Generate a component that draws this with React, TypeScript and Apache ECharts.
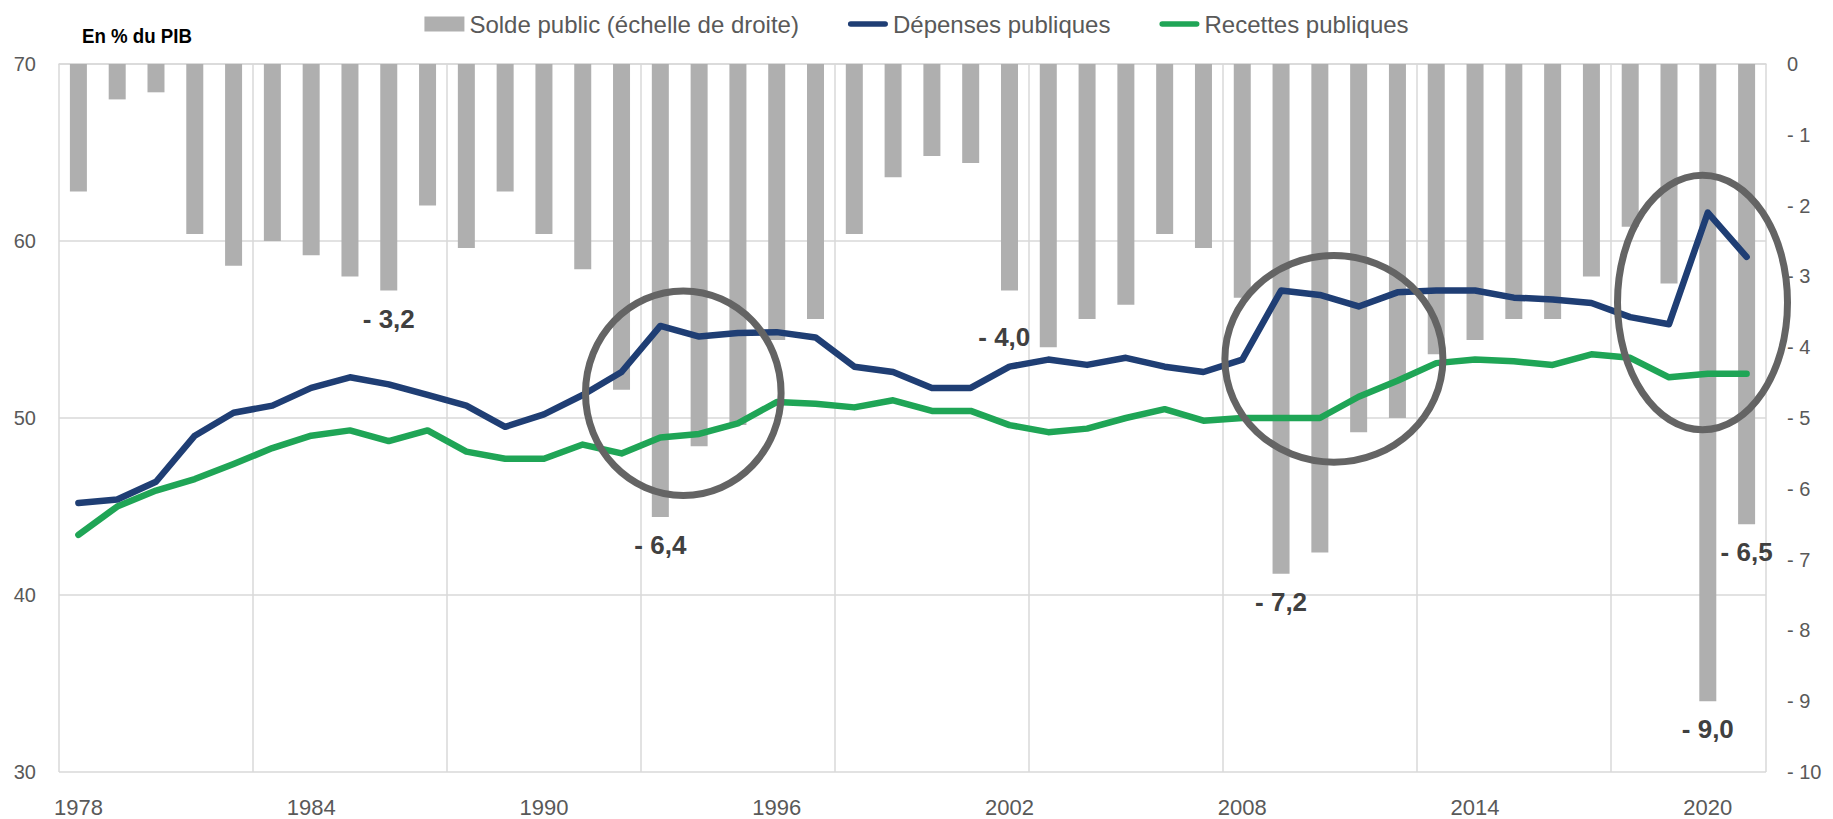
import React, { useEffect, useRef } from "react";
import * as echarts from "echarts";

const years: string[] = [
  "1978","1979","1980","1981","1982","1983","1984","1985","1986","1987",
  "1988","1989","1990","1991","1992","1993","1994","1995","1996","1997",
  "1998","1999","2000","2001","2002","2003","2004","2005","2006","2007",
  "2008","2009","2010","2011","2012","2013","2014","2015","2016","2017",
  "2018","2019","2020","2021",
];

const solde: number[] = [
  -1.8, -0.5, -0.4, -2.4, -2.85, -2.5, -2.7, -3.0, -3.2, -2.0,
  -2.6, -1.8, -2.4, -2.9, -4.6, -6.4, -5.4, -5.1, -3.9, -3.6,
  -2.4, -1.6, -1.3, -1.4, -3.2, -4.0, -3.6, -3.4, -2.4, -2.6,
  -3.3, -7.2, -6.9, -5.2, -5.0, -4.1, -3.9, -3.6, -3.6, -3.0,
  -2.3, -3.1, -9.0, -6.5,
];

const depenses: number[] = [
  45.2, 45.4, 46.4, 49.0, 50.3, 50.7, 51.7, 52.3, 51.9, 51.3,
  50.7, 49.5, 50.2, 51.3, 52.6, 55.2, 54.6, 54.8, 54.85, 54.55,
  52.9, 52.6, 51.7, 51.7, 52.9, 53.3, 53.0, 53.4, 52.9, 52.6,
  53.3, 57.2, 56.95, 56.3, 57.1, 57.2, 57.2, 56.8, 56.7, 56.5,
  55.7, 55.3, 61.6, 59.1,
];

const recettes: number[] = [
  43.4, 45.0, 45.9, 46.55, 47.4, 48.3, 49.0, 49.3, 48.7, 49.3,
  48.1, 47.7, 47.7, 48.5, 48.0, 48.9, 49.1, 49.7, 50.9, 50.8,
  50.6, 51.0, 50.4, 50.4, 49.6, 49.2, 49.4, 50.0, 50.5, 49.85,
  50.0, 50.0, 50.0, 51.2, 52.1, 53.1, 53.3, 53.2, 53.0, 53.6,
  53.4, 52.3, 52.5, 52.5,
];

const labelledYears: string[] = ["1986", "1993", "2003", "2009", "2020", "2021"];
const leftLabelYears: string[] = ["2003"];

const seriesNames: string[] = [
  "Solde public (échelle de droite)",
  "Dépenses publiques",
  "Recettes publiques",
];

const FONT = "'Liberation Sans', Arial, sans-serif";
const LINE_ICON = "path://M3,0 L40,0 A3,3 0 0 1 40,6 L3,6 A3,3 0 0 1 3,0 Z";

const fmtSolde = (v: number) =>
  "- " + Math.abs(v).toFixed(1).replace(".", ",");

export default function App() {
  const ref = useRef<HTMLDivElement>(null);

  useEffect(() => {
    if (!ref.current) return;
    const chart = echarts.init(ref.current, null, { renderer: "svg" });

    const barData = solde.map((v, i) => {
      const y = years[i];
      if (!labelledYears.includes(y)) return v;
      const isLeft = leftLabelYears.includes(y);
      return {
        value: v,
        label: {
          show: true,
          position: "bottom",
          distance: 15,
          offset: isLeft ? [-44, -38] : [0, 0],
          formatter: (p: any) => fmtSolde(p.value),
          fontFamily: FONT,
          fontWeight: "bold",
          fontSize: 26,
          color: "#404040",
        },
      };
    });

    const ellipseStyle = { fill: "none", stroke: "#646464", lineWidth: 7 };

    const option: any = {
      animation: false,
      backgroundColor: "#ffffff",
      textStyle: { fontFamily: FONT },
      grid: { left: 59, right: 67, top: 64, bottom: 47, containLabel: false },
      legend: {
        top: 7,
        left: "center",
        itemWidth: 40,
        itemHeight: 15,
        itemGap: 49,
        symbolKeepAspect: true,
        textStyle: { fontFamily: FONT, fontSize: 24, color: "#595959" },
        data: [
          { name: seriesNames[0], icon: "rect" },
          { name: seriesNames[1], icon: LINE_ICON, itemStyle: { color: "#1F3E74" } },
          { name: seriesNames[2], icon: LINE_ICON, itemStyle: { color: "#1FA556" } },
        ],
      },
      xAxis: {
        type: "category",
        data: years,
        boundaryGap: true,
        axisLine: { show: true, lineStyle: { color: "#D9D9D9", width: 1.5 } },
        axisTick: { show: false },
        axisLabel: {
          interval: 5,
          margin: 24,
          fontSize: 22,
          color: "#595959",
          fontFamily: FONT,
        },
        splitLine: {
          show: true,
          interval: (i: number) => i % 5 === 0,
          lineStyle: { color: "#D9D9D9", width: 1.5 },
        },
      },
      yAxis: [
        {
          type: "value",
          min: 30,
          max: 70,
          interval: 10,
          position: "left",
          axisLine: { show: false },
          axisTick: { show: false },
          axisLabel: {
            margin: 23,
            fontSize: 20,
            color: "#595959",
            fontFamily: FONT,
          },
          splitLine: { show: true, lineStyle: { color: "#D9D9D9", width: 1.5 } },
        },
        {
          type: "value",
          min: -10,
          max: 0,
          interval: 1,
          position: "right",
          axisLine: { show: false },
          axisTick: { show: false },
          axisLabel: {
            margin: 21,
            fontSize: 20,
            color: "#595959",
            fontFamily: FONT,
            formatter: (v: number) => (v === 0 ? "0" : "- " + Math.abs(v)),
          },
          splitLine: { show: false },
        },
      ],
      series: [
        {
          name: seriesNames[0],
          type: "bar",
          yAxisIndex: 1,
          barWidth: 17,
          itemStyle: { color: "#AFAFAF" },
          data: barData,
          z: 1,
        },
        {
          name: seriesNames[1],
          type: "line",
          yAxisIndex: 0,
          symbol: "none",
          lineStyle: { color: "#1F3E74", width: 6.5, cap: "round", join: "round" },
          itemStyle: { color: "#1F3E74" },
          data: depenses,
          z: 3,
        },
        {
          name: seriesNames[2],
          type: "line",
          yAxisIndex: 0,
          symbol: "none",
          lineStyle: { color: "#1FA556", width: 6.5, cap: "round", join: "round" },
          itemStyle: { color: "#1FA556" },
          data: recettes,
          z: 2,
        },
      ],
      graphic: [
        {
          type: "text",
          left: 82,
          top: 25,
          scaleX: 0.89,
          style: {
            text: "En % du PIB",
            fontFamily: FONT,
            fontWeight: "bold",
            fontSize: 21,
            fill: "#000000",
          },
        },
        {
          type: "ellipse",
          z: 100,
          shape: { cx: 683.3, cy: 393.2, rx: 97.8, ry: 102.3 },
          style: ellipseStyle,
        },
        {
          type: "ellipse",
          z: 100,
          shape: { cx: 1333.9, cy: 358.9, rx: 109, ry: 103.3 },
          style: ellipseStyle,
        },
        {
          type: "ellipse",
          z: 100,
          shape: { cx: 1702.5, cy: 302.5, rx: 85, ry: 127.3 },
          style: ellipseStyle,
        },
      ],
    };

    chart.setOption(option);
    return () => chart.dispose();
  }, []);

  return (
    <div
      ref={ref}
      style={{ position: "fixed", left: 0, top: 0, width: 1833, height: 819 }}
    />
  );
}
